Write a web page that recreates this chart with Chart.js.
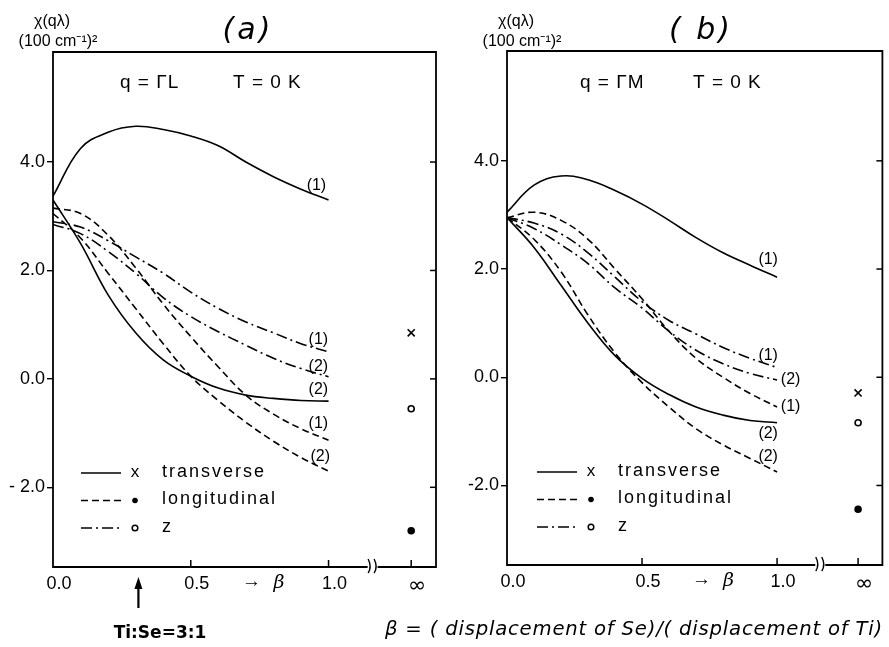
<!DOCTYPE html>
<html>
<head>
<meta charset="utf-8">
<script src="https://cdn.jsdelivr.net/npm/chart.js@4.4.1/dist/chart.umd.min.js"></script>
<style>
  html, body { margin: 0; padding: 0; background: #fff; }
  #wrap { position: relative; width: 889px; height: 647px; }
  canvas { position: absolute; left: 0; top: 0; }
</style>
</head>
<body>
<div id="wrap">
  <canvas id="chartA" width="889" height="647"></canvas>
  <canvas id="chartB" width="889" height="647"></canvas>
</div>
<script>
const beta = [0, 0.1, 0.2, 0.3, 0.4, 0.5, 0.6, 0.7, 0.8, 0.9, 1.0];
const INF_BETA = 1.3;     // where "∞" sits on the broken axis
const BREAK_BETA = 1.16;  // axis break
const xTicks = [0, 0.5, 1.0, INF_BETA];
const xTickLabels = ['0.0', '0.5', '1.0', '∞'];
const yTicks = [-2, 0, 2, 4];

// (a)  q = ΓL
const transA1 = [3.37, 4.25, 4.55, 4.66, 4.6, 4.48, 4.3, 4.0, 3.73, 3.5, 3.3];
const transA2 = [3.3, 2.5, 1.55, 0.85, 0.35, 0.05, -0.17, -0.3, -0.36, -0.4, -0.41];
const longA1 = [3.15, 3.05, 2.65, 2.05, 1.38, 0.78, 0.22, -0.3, -0.65, -0.92, -1.13];
const longA2 = [3.05, 2.6, 1.95, 1.3, 0.65, 0.05, -0.4, -0.8, -1.15, -1.45, -1.7];
const zA1 = [2.9, 2.8, 2.55, 2.25, 1.95, 1.6, 1.3, 1.05, 0.85, 0.65, 0.5];
const zA2 = [2.85, 2.68, 2.35, 1.95, 1.5, 1.15, 0.87, 0.62, 0.38, 0.19, 0.04];
const infA = [0.85, -2.8, -0.55];   // transverse, longitudinal, z at beta = ∞

// (b)  q = ΓM
const transB1 = [3.05, 3.55, 3.72, 3.65, 3.45, 3.2, 2.9, 2.58, 2.3, 2.07, 1.85];
const transB2 = [2.95, 2.4, 1.7, 1.0, 0.4, -0.02, -0.32, -0.55, -0.7, -0.8, -0.84];
const longB1 = [2.95, 3.05, 2.9, 2.55, 2.0, 1.45, 0.85, 0.35, 0.0, -0.3, -0.55];
const longB2 = [2.95, 2.55, 1.95, 1.15, 0.45, -0.1, -0.55, -0.95, -1.25, -1.5, -1.75];
const zB1 = [2.95, 2.85, 2.65, 2.3, 1.85, 1.4, 1.05, 0.8, 0.55, 0.35, 0.18];
const zB2 = [2.95, 2.75, 2.45, 2.1, 1.65, 1.28, 0.85, 0.5, 0.25, 0.07, -0.05];
const infB = [-0.29, -2.44, -0.84];

const INK = '#000';
const SOLID = [];
const DASHED = [7, 4];
const DASHDOT = [11, 4, 2, 4];
const FONT = "'Liberation Sans', Arial, sans-serif";

function curve(vals, dash) {
    return {
        data: vals.map((v, i) => ({ x: beta[i], y: v })),
        borderColor: INK,
        borderWidth: 1.6,
        borderDash: dash,
        pointRadius: 0,
        tension: 0.4,
        fill: false
    };
}

function infPoint(v, style, fill, r) {
    return {
        data: [{ x: INF_BETA, y: v }],
        showLine: false,
        pointStyle: style,
        pointRadius: r,
        borderColor: INK,
        backgroundColor: fill,
        pointBorderWidth: 1.6
    };
}

function txt(ctx, s, x, y, font, align, spacing, maxW) {
    ctx.font = font;
    ctx.textAlign = align || 'center';
    ctx.textBaseline = 'middle';
    ctx.letterSpacing = spacing || '0px';
    if (maxW) ctx.fillText(s, x, y, maxW); else ctx.fillText(s, x, y);
    ctx.letterSpacing = '0px';
}

// frame, inward ticks, axis break and all the annotations
function decor(p) {
    return {
        id: 'decor',
        afterDraw(chart) {
            const { ctx, chartArea: a, scales: { x, y } } = chart;
            ctx.save();
            ctx.strokeStyle = INK;
            ctx.fillStyle = INK;
            ctx.setLineDash([]);

            const bx = x.getPixelForValue(BREAK_BETA);
            ctx.lineWidth = 1.8;
            ctx.beginPath();
            ctx.moveTo(bx - 5, a.bottom);
            ctx.lineTo(a.left, a.bottom);
            ctx.lineTo(a.left, a.top);
            ctx.lineTo(a.right, a.top);
            ctx.lineTo(a.right, a.bottom);
            ctx.lineTo(bx + 5, a.bottom);
            ctx.stroke();

            ctx.lineWidth = 1.4;
            [-3, 3].forEach(d => {
                ctx.beginPath();
                ctx.moveTo(bx + d - 1.5, a.bottom - 8);
                ctx.quadraticCurveTo(bx + d + 2.5, a.bottom, bx + d - 1.5, a.bottom + 6);
                ctx.stroke();
            });

            ctx.lineWidth = 1.5;
            [0.5, 1.0, INF_BETA].forEach(v => {
                const px = x.getPixelForValue(v);
                ctx.beginPath();
                ctx.moveTo(px, a.bottom);
                ctx.lineTo(px, a.bottom - 7);
                ctx.stroke();
            });
            yTicks.forEach(v => {
                const py = y.getPixelForValue(v);
                ctx.beginPath();
                ctx.moveTo(a.right, py);
                ctx.lineTo(a.right - 6, py);
                ctx.stroke();
            });

            // titles
            txt(ctx, p.title, p.titleX, 31, "italic 30px 'DejaVu Sans', sans-serif", 'center', '3px');
            txt(ctx, 'χ(qλ)', p.yLabX, 22, '16px ' + FONT);
            txt(ctx, '(100 cm⁻¹)²', p.yLabX + 6, 42, '16px ' + FONT);
            txt(ctx, p.qText, p.qX, 83, '19px ' + FONT, 'left', '1px');
            txt(ctx, 'T = 0 K', p.qX + 113, 83, '19px ' + FONT, 'left', '1px');

            // curve numbers
            p.curveLabels.forEach(([s, bv, yv]) => {
                txt(ctx, s, x.getPixelForValue(bv), y.getPixelForValue(yv), '16px ' + FONT);
            });

            // "→ β" on the axis
            const ay = a.bottom + 15;
            txt(ctx, '→', x.getPixelForValue(0.72), ay, '19px ' + FONT);
            txt(ctx, 'β', x.getPixelForValue(0.82), ay + 1, "italic 19px 'DejaVu Serif', serif");

            // legend inside the plot
            const lg = p.legend;
            [[SOLID, 'x', 'transverse'], [DASHED, '•', 'longitudinal'], [DASHDOT, 'o', 'z']].forEach(([dash, mk, name], i) => {
                const ly = lg.y + i * 27.5;
                ctx.lineWidth = 1.5;
                ctx.setLineDash(dash);
                ctx.beginPath();
                ctx.moveTo(lg.x, ly);
                ctx.lineTo(lg.x + 40, ly);
                ctx.stroke();
                ctx.setLineDash([]);
                if (mk === 'x') {
                    txt(ctx, 'x', lg.x + 54, ly - 1, '17px ' + FONT);
                } else {
                    ctx.beginPath();
                    ctx.arc(lg.x + 54, ly, 2.8, 0, Math.PI * 2);
                    if (mk === '•') ctx.fill(); else ctx.stroke();
                }
                txt(ctx, name, lg.x + 81, ly - 1, '18px ' + FONT, 'left', '2px');
            });

            if (p.extra) p.extra(ctx, chart);
            ctx.restore();
        }
    };
}

function makeChart(id, sets, p) {
    const all = [
        curve(sets.trans1, SOLID), curve(sets.trans2, SOLID),
        curve(sets.long1, DASHED), curve(sets.long2, DASHED),
        curve(sets.z1, DASHDOT), curve(sets.z2, DASHDOT),
        infPoint(sets.inf[0], 'crossRot', INK, 5),
        infPoint(sets.inf[1], 'circle', INK, 3),
        infPoint(sets.inf[2], 'circle', '#fff', 3)
    ];
    return new Chart(document.getElementById(id).getContext('2d'), {
        type: 'line',
        data: { datasets: all },
        options: {
            responsive: false,
            animation: false,
            events: [],
            layout: { padding: p.padding },
            plugins: { legend: { display: false }, tooltip: { enabled: false }, title: { display: false } },
            scales: {
                x: {
                    type: 'linear',
                    min: 0,
                    max: 1.39,
                    afterBuildTicks: s => { s.ticks = xTicks.map(v => ({ value: v })); },
                    afterFit: s => { s.height = 30; },
                    grid: { display: false },
                    border: { display: false },
                    ticks: {
                        padding: -2,
                        labelOffset: 6,
                        color: INK,
                        maxRotation: 0,
                        autoSkip: false,
                        font: c => (c.tick && c.tick.value === INF_BETA)
                            ? { family: "'DejaVu Sans', sans-serif", size: 22 }
                            : { family: FONT, size: 18 },
                        callback: v => xTickLabels[xTicks.indexOf(v)]
                    }
                },
                y: {
                    type: 'linear',
                    min: -3.47,
                    max: 6.03,
                    afterBuildTicks: s => { s.ticks = yTicks.map(v => ({ value: v })); },
                    afterFit: s => { s.width = 50; },
                    grid: { drawOnChartArea: false, drawTicks: true, tickLength: 6, color: INK, lineWidth: 1.4 },
                    border: { display: false },
                    ticks: {
                        padding: 2,
                        color: INK,
                        font: { family: FONT, size: 18 },
                        callback: v => v < 0 ? p.negPrefix + Math.abs(v).toFixed(1) : v.toFixed(1)
                    }
                }
            }
        },
        plugins: [decor(p)]
    });
}

makeChart('chartA',
    { trans1: transA1, trans2: transA2, long1: longA1, long2: longA2, z1: zA1, z2: zA2, inf: infA },
    {
        padding: { left: 3, right: 453, top: 52, bottom: 50 },
        negPrefix: '- ',
        title: '(a)', titleX: 248,
        yLabX: 52,
        qText: 'q = ΓL', qX: 120,
        legend: { x: 81, y: 473 },
        curveLabels: [
            ['(1)', 0.956, 3.56], ['(1)', 0.963, 0.72], ['(2)', 0.963, 0.22],
            ['(2)', 0.963, -0.19], ['(1)', 0.963, -0.83], ['(2)', 0.97, -1.43]
        ],
        extra(ctx, chart) {
            const ax = chart.scales.x.getPixelForValue(0.31);
            ctx.lineWidth = 2.2;
            ctx.beginPath();
            ctx.moveTo(ax, 608);
            ctx.lineTo(ax, 582);
            ctx.stroke();
            ctx.beginPath();
            ctx.moveTo(ax - 4, 589);
            ctx.lineTo(ax, 577);
            ctx.lineTo(ax + 4, 589);
            ctx.closePath();
            ctx.fill();
            txt(ctx, 'Ti:Se=3:1', 160, 634, "bold 17px 'DejaVu Sans', sans-serif", 'center', '0px');
        }
    });

makeChart('chartB',
    { trans1: transB1, trans2: transB2, long1: longB1, long2: longB2, z1: zB1, z2: zB2, inf: infB },
    {
        padding: { left: 457, right: 1, top: 51, bottom: 52 },
        negPrefix: '-',
        title: '( b)', titleX: 701,
        yLabX: 516,
        qText: 'q = ΓM', qX: 580,
        legend: { x: 537, y: 472 },
        curveLabels: [
            ['(1)', 0.967, 2.18], ['(1)', 0.967, 0.40], ['(2)', 1.05, -0.05],
            ['(1)', 1.05, -0.55], ['(2)', 0.967, -1.05], ['(2)', 0.967, -1.47]
        ],
        extra(ctx) {
            txt(ctx, 'β = ( displacement of Se)/( displacement of Ti)', 385, 630,
                "italic 20px 'DejaVu Sans', sans-serif", 'left', '0.8px', 498);
        }
    });
</script>
</body>
</html>
